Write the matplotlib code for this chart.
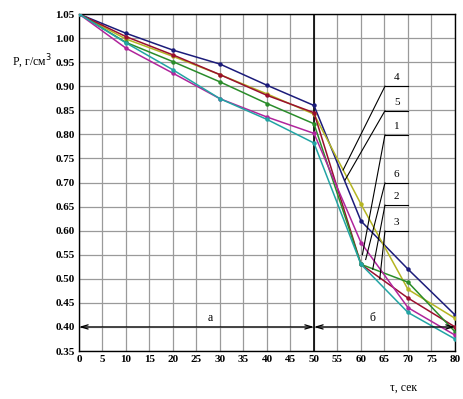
import numpy as np
import matplotlib
matplotlib.use("Agg")
import matplotlib.pyplot as plt

plt.rcParams['font.family'] = ['Liberation Serif', 'DejaVu Serif']

# время, сек
t = [0, 10, 20, 30, 40, 50, 60, 70, 80]

# плотность, г/см3
p_navy = [1.05, 1.010, 0.975, 0.946, 0.902, 0.860, 0.620, 0.520, 0.425]
p_maroon = [1.05, 1.003, 0.965, 0.924, 0.881, 0.845, 0.530, 0.460, 0.400]
p_yellow = [1.05, 0.998, 0.962, 0.924, 0.884, 0.842, 0.655, 0.478, 0.418]
p_green = [1.05, 0.991, 0.951, 0.909, 0.864, 0.822, 0.530, 0.493, 0.390]
p_magenta = [1.05, 0.979, 0.927, 0.874, 0.836, 0.802, 0.575, 0.440, 0.383]
p_teal = [1.05, 0.990, 0.934, 0.874, 0.831, 0.782, 0.530, 0.430, 0.375]

series = [
    (p_navy, '#1c1c7a'),
    (p_yellow, '#b5b522'),
    (p_maroon, '#9a0f2e'),
    (p_green, '#2a8c2a'),
    (p_magenta, '#b0259c'),
    (p_teal, '#22a4a4'),
]

# подписи кривых: номер, y подписи, конец выноски (t, p)
labels = ['4', '5', '1', '6', '2', '3']
label_y = [0.900, 0.849, 0.799, 0.699, 0.653, 0.599]
lead_t = [56.2, 56.6, 60.3, 61.0, 62.5, 64.0]
lead_p = [0.726, 0.705, 0.550, 0.540, 0.520, 0.500]

fig = plt.figure(figsize=(4.63, 3.99), dpi=100)
ax = fig.add_axes([0.1706, 0.1203, 0.8121, 0.8446])

for vals, col in series:
    ax.plot(t, vals, color=col, lw=1.1, marker='o', ms=2.2, zorder=3)

ax.set_xlim(0, 80)
ax.set_ylim(0.35, 1.05)
ax.set_xticks(np.arange(0, 81, 5))
ax.set_yticks(np.arange(0.35, 1.051, 0.05))
ax.set_yticklabels(['%.2f' % v for v in np.arange(0.35, 1.051, 0.05)])
ax.grid(True, color='#9a9a9a', lw=0.9)
ax.tick_params(length=0, labelsize=8, pad=3)
for lab in ax.get_xticklabels() + ax.get_yticklabels():
    lab.set_fontweight('bold')
for s in ax.spines.values():
    s.set_linewidth(1.0)

ax.axvline(50, color='black', lw=1.2, zorder=2)

# выноски
for lab, ly, lt, lp in zip(labels, label_y, lead_t, lead_p):
    ax.plot([65.1, 70.0], [ly, ly], color='black', lw=0.8, zorder=4)
    ax.plot([65.1, lt], [ly, lp], color='black', lw=0.8, zorder=4)
    ax.text(67.6, ly + 0.008, lab, ha='center', va='bottom', fontsize=8)

# области а и б
arr = dict(arrowstyle='<->,head_length=0.5,head_width=0.15', color='black',
           lw=0.9, shrinkA=0, shrinkB=0)
ax.annotate('', xy=(0, 0.40), xytext=(50, 0.40), arrowprops=arr)
ax.annotate('', xy=(50, 0.40), xytext=(80, 0.40), arrowprops=arr)
ax.text(28, 0.418, 'а', ha='center', va='center', fontsize=8.5)
ax.text(62.5, 0.418, 'б', ha='center', va='center', fontsize=8.5)

fig.text(0.068, 0.845, 'Р, г/см$^3$', fontsize=8.5, ha='center', va='center')
fig.text(0.872, 0.028, 'τ, сек', fontsize=8.5, ha='center', va='center')

fig.savefig('out.png', dpi=100)
